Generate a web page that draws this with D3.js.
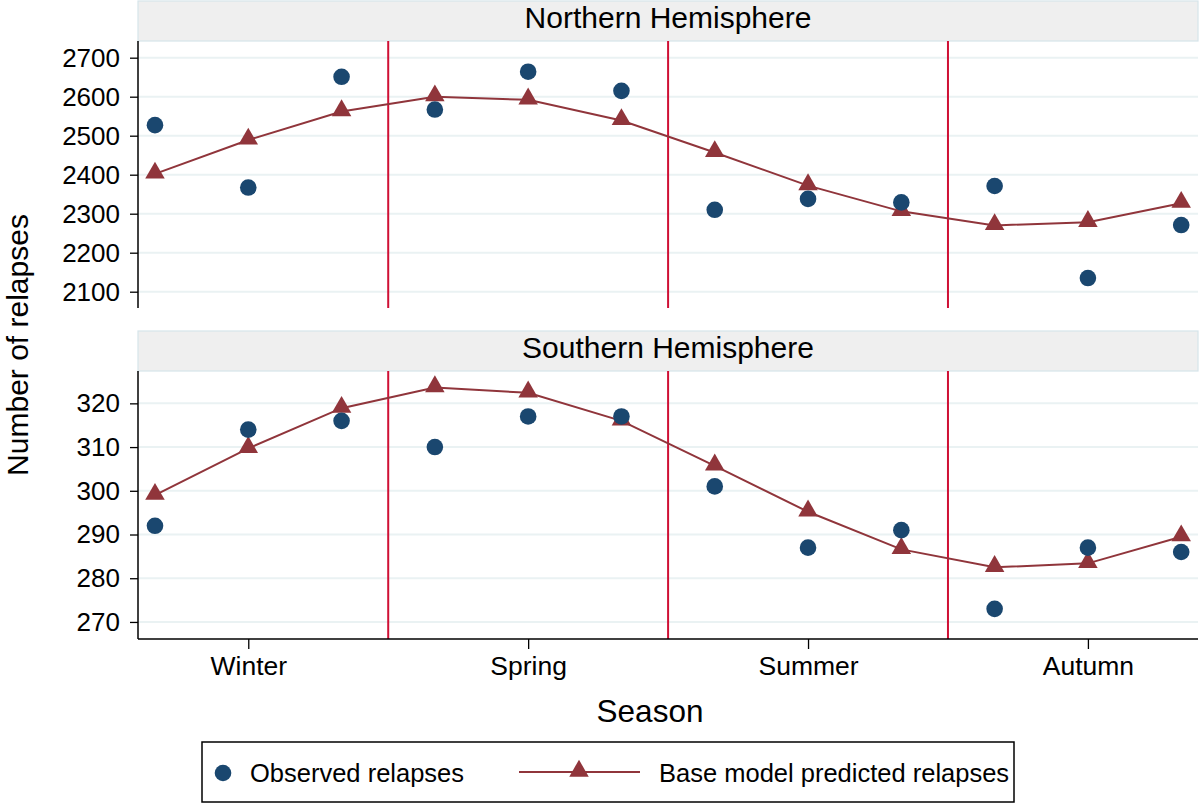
<!DOCTYPE html>
<html>
<head>
<meta charset="utf-8">
<script src="https://cdn.jsdelivr.net/npm/d3@7"></script>
<style>
  body { margin: 0; background: #fff; }
  text { font-family: "Liberation Sans", Arial, sans-serif; fill: #000; }
</style>
</head>
<body>
<div id="chart"></div>
<script>
// months 1..12 of the season cycle
let months = [1, 2, 3, 4, 5, 6, 7, 8, 9, 10, 11, 12];
let seasons = ['Winter', 'Spring', 'Summer', 'Autumn'];
let seasonTicks = [2, 5, 8, 11];
let seasonBreaks = [3.5, 6.5, 9.5];

let northObserved = [2527, 2367, 2651, 2567, 2664, 2615, 2310, 2338, 2329, 2371, 2135, 2271];
let northPredicted = [2402, 2489, 2562, 2600, 2592, 2539, 2457, 2372, 2306, 2270, 2278, 2327];
let northTicks = [2100, 2200, 2300, 2400, 2500, 2600, 2700];

let southObserved = [292, 314, 316, 310, 317, 317, 301, 287, 291, 273, 287, 286];
let southPredicted = [299, 309.7, 318.9, 323.6, 322.4, 316, 305.7, 295.2, 286.6, 282.5, 283.4, 289.5];
let southTicks = [270, 280, 290, 300, 310, 320];

let w = 1200;
let h = 804;
let left = 138;
let right = 1198;
let navy = '#1a476f';
let maroon = '#90353b';
let font = '"Liberation Sans", Arial, sans-serif';

let svg = d3.select('#chart')
  .append('svg')
  .attr('width', w)
  .attr('height', h);

let x = d3.scaleLinear().domain([0.818, 12.18]).range([left, right]);

let panels = [
  { title: 'Northern Hemisphere', top: 1, y0: 41, y1: 308, domain: [2058.2, 2742.8],
    obs: northObserved, pred: northPredicted, ticks: northTicks },
  { title: 'Southern Hemisphere', top: 331, y0: 371, y1: 639, domain: [266.1, 327.4],
    obs: southObserved, pred: southPredicted, ticks: southTicks }
];

let tri = d3.symbol().type(d3.symbolTriangle).size(165);

panels.forEach(function(p, k) {
  let y = d3.scaleLinear().domain(p.domain).range([p.y1, p.y0]);

  // header strip
  svg.append('rect')
    .attr('x', left).attr('y', p.top)
    .attr('width', right - left).attr('height', p.y0 - p.top)
    .attr('fill', '#efefef').attr('stroke', '#d6e4ea').attr('stroke-width', 1.2);
  svg.append('text')
    .attr('x', (left + right) / 2).attr('y', p.top + 27)
    .attr('text-anchor', 'middle').attr('font-size', 30)
    .text(p.title);

  // gridlines
  svg.append('g').selectAll('line')
    .data(p.ticks).enter().append('line')
    .attr('x1', left).attr('x2', right)
    .attr('y1', function(d) { return y(d); })
    .attr('y2', function(d) { return y(d); })
    .attr('stroke', '#eaf2f3').attr('stroke-width', 2);

  // season separators
  svg.append('g').selectAll('line')
    .data(seasonBreaks).enter().append('line')
    .attr('x1', function(d) { return x(d); })
    .attr('x2', function(d) { return x(d); })
    .attr('y1', p.y0).attr('y2', p.y1)
    .attr('stroke', '#cf1035').attr('stroke-width', 2);

  // y axis
  let ay = svg.append('g')
    .attr('transform', 'translate(' + left + ',0)')
    .call(d3.axisLeft(y).tickValues(p.ticks).tickFormat(d3.format('d'))
      .tickSize(8).tickPadding(10).tickSizeOuter(0));
  ay.select('.domain').attr('stroke', '#000').attr('stroke-width', 1.5)
    .attr('d', 'M0,' + p.y0 + 'V' + p.y1);
  ay.selectAll('.tick line').attr('stroke', '#000').attr('stroke-width', 1.3);
  ay.selectAll('.tick text').attr('font-size', 26)
    .attr('font-family', font).attr('fill', '#000');

  // predicted line + triangles
  let line = d3.line()
    .x(function(d, i) { return x(months[i]); })
    .y(function(d) { return y(d); });
  svg.append('path')
    .datum(p.pred)
    .attr('d', line)
    .attr('fill', 'none').attr('stroke', maroon).attr('stroke-width', 2);

  svg.append('g').selectAll('path')
    .data(p.pred).enter().append('path')
    .attr('d', tri)
    .attr('transform', function(d, i) {
      return 'translate(' + x(months[i]) + ',' + (y(d) - 1) + ')';
    })
    .attr('fill', maroon);

  // observed dots
  svg.append('g').selectAll('circle')
    .data(p.obs).enter().append('circle')
    .attr('cx', function(d, i) { return x(months[i]); })
    .attr('cy', function(d) { return y(d); })
    .attr('r', 8.3)
    .attr('fill', navy);

  if (k == 1) {
    let ax = svg.append('g')
      .attr('transform', 'translate(0,' + p.y1 + ')')
      .call(d3.axisBottom(x).tickValues(seasonTicks)
        .tickFormat(function(d, i) { return seasons[i]; })
        .tickSize(10).tickPadding(7).tickSizeOuter(0));
    ax.select('.domain').attr('stroke', '#000').attr('stroke-width', 1.5)
      .attr('d', 'M' + left + ',0H' + right);
    ax.selectAll('.tick line').attr('stroke', '#000').attr('stroke-width', 1.3);
    ax.selectAll('.tick text').attr('font-size', 26.5)
      .attr('font-family', font).attr('fill', '#000');
  }
});

// axis titles
svg.append('text')
  .attr('x', 650).attr('y', 722)
  .attr('text-anchor', 'middle').attr('font-size', 31.5)
  .text('Season');
svg.append('text')
  .attr('transform', 'translate(28,345) rotate(-90)')
  .attr('text-anchor', 'middle').attr('font-size', 30)
  .text('Number of relapses');

// legend
let lg = svg.append('g');
lg.append('rect')
  .attr('x', 202).attr('y', 742).attr('width', 812).attr('height', 60)
  .attr('fill', '#fff').attr('stroke', '#000').attr('stroke-width', 1.5);
lg.append('circle').attr('cx', 223).attr('cy', 773).attr('r', 8.3).attr('fill', navy);
lg.append('text').attr('x', 250).attr('y', 782).attr('font-size', 25.5).text('Observed relapses');
lg.append('line').attr('x1', 519).attr('x2', 640).attr('y1', 772).attr('y2', 772)
  .attr('stroke', maroon).attr('stroke-width', 2);
lg.append('path').attr('d', tri).attr('transform', 'translate(579,771)').attr('fill', maroon);
lg.append('text').attr('x', 659).attr('y', 782).attr('font-size', 25.5).text('Base model predicted relapses');
</script>
</body>
</html>
